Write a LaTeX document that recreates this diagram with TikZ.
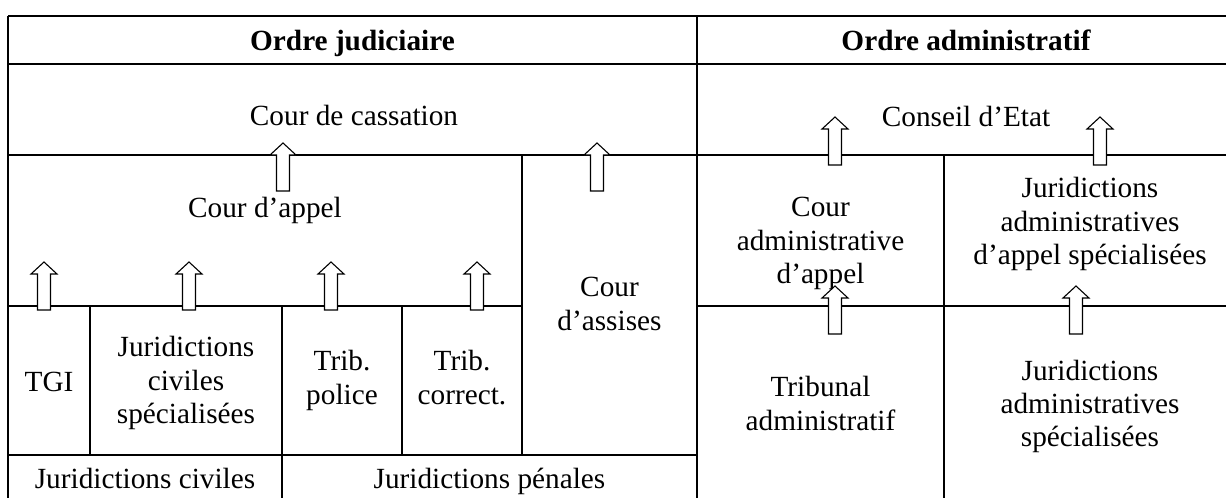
\documentclass[tikz,border=0pt]{standalone}
\usepackage{fontspec}
\setmainfont{Liberation Serif}
\begin{document}
\begin{tikzpicture}[x=0.41pt,y=-0.41pt,
  grid/.style={line width=0.65pt},
  txt/.style={inner sep=0pt,align=center,font=\fontsize{12}{13.6}\selectfont},
  head/.style={txt,font=\fontsize{12}{13.6}\selectfont\bfseries},
  pics/uparr/.style={code={\draw[fill=white,line width=0.45pt,line join=miter]
    (0,0) -- (13,12) -- (6.5,12) -- (6.5,48) -- (-6.5,48) -- (-6.5,12) -- (-13,12) -- cycle;}}]
\useasboundingbox (0,0) rectangle (1226,498);
% grid
\draw[grid] (8,16) -- (1226,16);
\draw[grid] (8,64) -- (1226,64);
\draw[grid] (8,155) -- (1226,155);
\draw[grid] (8,16) -- (8,498);
\draw[grid] (697,16) -- (697,498);
\draw[grid] (522,155) -- (522,455);
\draw[grid] (8,306) -- (522,306);
\draw[grid] (697,306) -- (1226,306);
\draw[grid] (944,155) -- (944,498);
\draw[grid] (90,306) -- (90,455);
\draw[grid] (282,306) -- (282,498);
\draw[grid] (402,306) -- (402,455);
\draw[grid] (8,455) -- (697,455);
% texts
\node[head,anchor=base] (oj) at (352.5,50) {Ordre judiciaire};
\node[head,anchor=base] (oa) at (966,50) {Ordre administratif};
\node[txt,anchor=base] (cass) at (354,125) {Cour de cassation};
\node[txt,anchor=base] (ce) at (966,126) {Conseil d’Etat};
\node[txt,anchor=base] (ca) at (265,217) {Cour d’appel};
\node[txt] (assises) at (609.5,306.9) {\strut Cour\\\strut d’assises};
\node[txt] (caa) at (820.5,243.4) {\strut Cour\\\strut administrative\\\strut d’appel};
\node[txt] (jaas) at (1090,224.4) {\strut Juridictions\\\strut administratives\\\strut d’appel spécialisées};
\node[txt,anchor=base] (tgi) at (49,391) {TGI};
\node[txt] (jcs) at (186,383.4) {\strut Juridictions\\\strut civiles\\\strut spécialisées};
\node[txt] (tp) at (342,380.9) {\strut Trib.\\\strut police};
\node[txt] (tc) at (462,380.9) {\strut Trib.\\\strut correct.};
\node[txt] (ta) at (820.5,406.9) {\strut Tribunal\\\strut administratif};
\node[txt] (jas) at (1090,406.9) {\strut Juridictions\\\strut administratives\\\strut spécialisées};
\node[txt,anchor=base] (jc) at (145,488) {Juridictions civiles};
\node[txt,anchor=base] (jp) at (489.5,488) {Juridictions pénales};
% arrows
\pic at (283,143) {uparr};
\pic at (597,143) {uparr};
\pic at (44,262) {uparr};
\pic at (189,262) {uparr};
\pic at (331,262) {uparr};
\pic at (477,262) {uparr};
\pic at (835,117) {uparr};
\pic at (1100,117) {uparr};
\pic at (835,286) {uparr};
\pic at (1076,286) {uparr};
\end{tikzpicture}
\end{document}
